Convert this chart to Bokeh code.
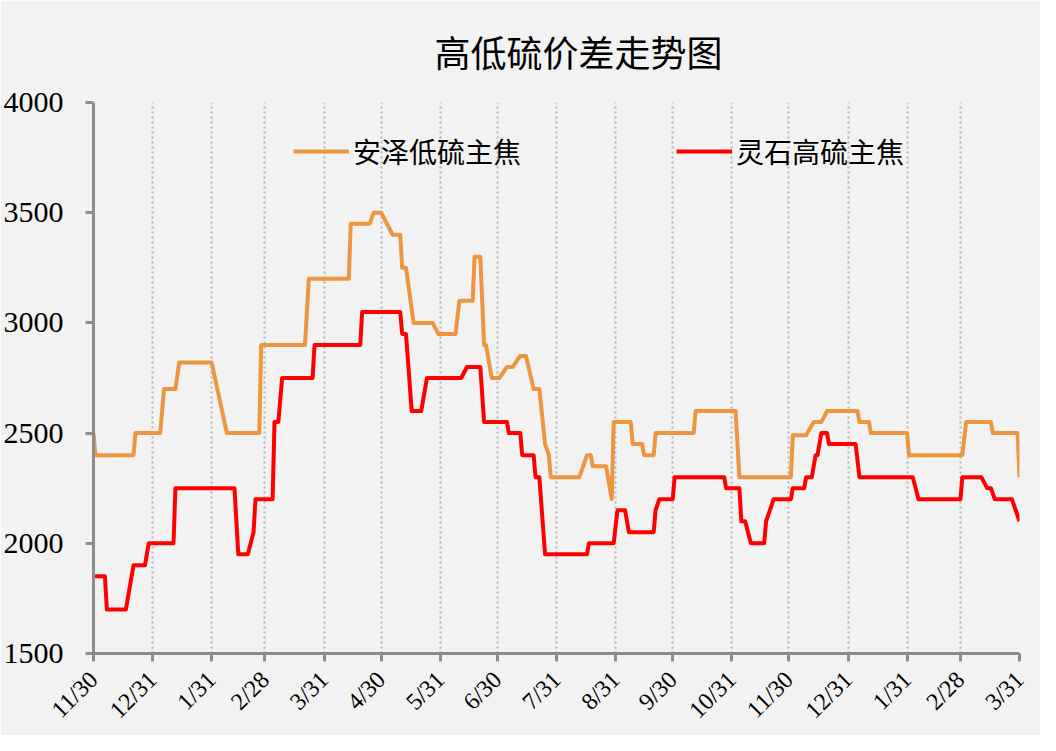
from math import pi
import pandas as pd
from bokeh.plotting import figure
from bokeh.models import Range1d, FixedTicker, Legend, LegendItem
from bokeh.embed import file_html
from bokeh.resources import INLINE

title_text = "高低硫价差走势图"
series_names = ["安泽低硫主焦", "灵石高硫主焦"]

tick_dates = ["2016-11-30", "2016-12-31", "2017-01-31", "2017-02-28", "2017-03-31",
              "2017-04-30", "2017-05-31", "2017-06-30", "2017-07-31", "2017-08-31",
              "2017-09-30", "2017-10-31", "2017-11-30", "2017-12-31", "2018-01-31",
              "2018-02-28", "2018-03-31"]
tick_labels = ["11/30", "12/31", "1/31", "2/28", "3/31", "4/30", "5/31", "6/30", "7/31",
               "8/31", "9/30", "10/31", "11/30", "12/31", "1/31", "2/28", "3/31"]
y_ticks = [1500, 2000, 2500, 3000, 3500, 4000]

anze_dates = ["2016-11-30", "2016-12-01", "2016-12-21", "2016-12-22", "2017-01-04", "2017-01-06",
              "2017-01-12", "2017-01-14", "2017-01-31", "2017-02-08", "2017-02-25", "2017-02-26",
              "2017-03-21", "2017-03-23", "2017-04-13", "2017-04-14", "2017-04-24", "2017-04-26",
              "2017-04-30", "2017-05-06", "2017-05-10", "2017-05-11", "2017-05-13", "2017-05-17",
              "2017-05-27", "2017-05-30", "2017-06-08", "2017-06-10", "2017-06-17", "2017-06-18",
              "2017-06-21", "2017-06-23", "2017-06-24", "2017-06-27", "2017-07-01", "2017-07-05",
              "2017-07-08", "2017-07-12", "2017-07-15", "2017-07-19", "2017-07-22", "2017-07-25",
              "2017-07-27", "2017-07-28", "2017-08-12", "2017-08-16", "2017-08-18", "2017-08-19",
              "2017-08-26", "2017-08-29", "2017-08-30", "2017-09-08", "2017-09-09", "2017-09-14",
              "2017-09-15", "2017-09-20", "2017-09-21", "2017-10-11", "2017-10-12", "2017-11-02",
              "2017-11-04", "2017-12-01", "2017-12-02", "2017-12-09", "2017-12-13", "2017-12-17",
              "2017-12-20", "2018-01-05", "2018-01-06", "2018-01-11", "2018-01-12", "2018-01-31",
              "2018-02-01", "2018-03-01", "2018-03-03", "2018-03-16", "2018-03-17", "2018-03-30",
              "2018-03-31"]
anze_values = [2500, 2400, 2400, 2500, 2500, 2700, 2700, 2820, 2820, 2500, 2500, 2900,
               2900, 3200, 3200, 3450, 3450, 3500, 3500, 3400, 3400, 3250, 3250, 3000,
               3000, 2950, 2950, 3100, 3100, 3300, 3300, 2900, 2900, 2750, 2750, 2800,
               2800, 2850, 2850, 2700, 2700, 2450, 2400, 2300, 2300, 2400, 2400, 2350,
               2350, 2200, 2550, 2550, 2450, 2450, 2400, 2400, 2500, 2500, 2600, 2600,
               2300, 2300, 2490, 2490, 2550, 2550, 2600, 2600, 2550, 2550, 2500, 2500,
               2400, 2400, 2550, 2550, 2500, 2500, 2300]

lingshi_dates = ["2016-11-30", "2016-12-06", "2016-12-07", "2016-12-17", "2016-12-21", "2016-12-27",
                 "2016-12-29", "2017-01-11", "2017-01-12", "2017-02-12", "2017-02-14", "2017-02-19",
                 "2017-02-22", "2017-02-23", "2017-03-04", "2017-03-05", "2017-03-07", "2017-03-09",
                 "2017-03-25", "2017-03-26", "2017-04-19", "2017-04-20", "2017-05-10", "2017-05-11",
                 "2017-05-13", "2017-05-16", "2017-05-21", "2017-05-24", "2017-06-11", "2017-06-14",
                 "2017-06-21", "2017-06-23", "2017-07-05", "2017-07-06", "2017-07-12", "2017-07-13",
                 "2017-07-19", "2017-07-20", "2017-07-22", "2017-07-25", "2017-08-16", "2017-08-17",
                 "2017-08-30", "2017-09-01", "2017-09-05", "2017-09-07", "2017-09-20", "2017-09-21",
                 "2017-09-23", "2017-09-30", "2017-10-01", "2017-10-27", "2017-10-28", "2017-11-04",
                 "2017-11-05", "2017-11-07", "2017-11-10", "2017-11-17", "2017-11-18", "2017-11-22",
                 "2017-12-01", "2017-12-02", "2017-12-08", "2017-12-09", "2017-12-12", "2017-12-14",
                 "2017-12-15", "2017-12-17", "2017-12-20", "2017-12-21", "2018-01-04", "2018-01-06",
                 "2018-02-03", "2018-02-06", "2018-02-28", "2018-03-01", "2018-03-11", "2018-03-14",
                 "2018-03-16", "2018-03-18", "2018-03-27", "2018-03-29", "2018-03-31"]
lingshi_values = [1850, 1850, 1700, 1700, 1900, 1900, 2000, 2000, 2250, 2250, 1950, 1950,
                  2050, 2200, 2200, 2550, 2550, 2750, 2750, 2900, 2900, 3050, 3050, 2950,
                  2950, 2600, 2600, 2750, 2750, 2800, 2800, 2550, 2550, 2500, 2500, 2400,
                  2400, 2300, 2300, 1950, 1950, 2000, 2000, 2150, 2150, 2050, 2050, 2150,
                  2200, 2200, 2300, 2300, 2250, 2250, 2100, 2100, 2000, 2000, 2100, 2200,
                  2200, 2250, 2250, 2300, 2300, 2400, 2400, 2500, 2500, 2450, 2450, 2300,
                  2300, 2200, 2200, 2300, 2300, 2250, 2250, 2200, 2200, 2150, 2100]

orange = "#EE9540"
red = "#FF0000"
axis_gray = "#8c8c8c"

tick_ts = pd.to_datetime(tick_dates)
tick_ms = [float(t.value // 10**6) for t in tick_ts]

p = figure(width=1040, height=735, x_axis_type="datetime",
           x_range=Range1d(tick_ts[0], tick_ts[-1]), y_range=Range1d(1500, 4000),
           output_backend="svg", toolbar_location=None,
           min_border_left=92, min_border_right=21, min_border_top=102, min_border_bottom=80,
           background_fill_color="#f2f2f2", border_fill_color="#f2f2f2")
p.outline_line_color = None

r1 = p.line(pd.to_datetime(anze_dates), anze_values, line_color=orange, line_width=4,
            line_join="round")
r2 = p.line(pd.to_datetime(lingshi_dates), lingshi_values, line_color=red, line_width=4,
            line_join="round")

# title
p.title.text = title_text
p.title.text_font = "Noto Sans CJK SC"
p.title.text_font_size = "36px"
p.title.text_font_style = "normal"
p.title.text_color = "#000000"
p.title.align = "left"
p.title.offset = 341
p.title.vertical_align = "top"
p.title.standoff = 47

# axes
xt = FixedTicker(ticks=tick_ms)
p.xaxis.ticker = xt
p.xaxis.major_label_overrides = {ms: lab for ms, lab in zip(tick_ms, tick_labels)}
p.xaxis.major_label_orientation = pi / 4
p.yaxis.ticker = FixedTicker(ticks=y_ticks)
for ax in (p.xaxis, p.yaxis):
    ax.axis_line_color = axis_gray
    ax.axis_line_width = 3
    ax.major_tick_line_color = axis_gray
    ax.major_tick_line_width = 3
    ax.major_tick_out = 8
    ax.major_tick_in = 0
    ax.minor_tick_line_color = None
    ax.major_label_text_font = "Liberation Serif"
    ax.major_label_text_color = "#000000"
p.yaxis.major_label_text_font_size = "30px"
p.yaxis.major_label_standoff = 22
p.xaxis.major_label_text_font_size = "24px"
p.xaxis.major_label_standoff = 14

# grid
p.xgrid.ticker = xt
p.xgrid.grid_line_color = "#b4b4b4"
p.xgrid.grid_line_width = 2
p.xgrid.grid_line_dash = "2 3"
p.ygrid.grid_line_color = None

legend = Legend(items=[LegendItem(label=series_names[0], renderers=[r1]),
                       LegendItem(label=series_names[1], renderers=[r2])],
                orientation="horizontal", location=(200, 482),
                background_fill_alpha=0, border_line_color=None,
                padding=0, margin=0, spacing=155,
                glyph_width=56, glyph_height=34, label_height=34, label_standoff=4,
                label_text_font="Noto Sans CJK SC", label_text_font_size="28px",
                label_text_color="#000000")
p.add_layout(legend)

open("out.html", "w").write(file_html(p, INLINE))
